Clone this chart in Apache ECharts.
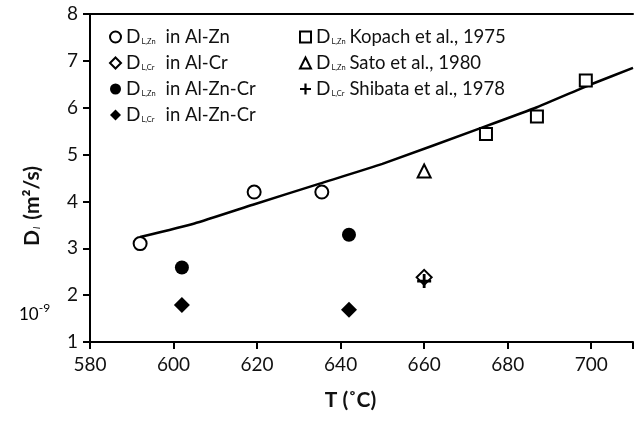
<!DOCTYPE html>
<html><head><meta charset="utf-8">
<script src="https://cdn.jsdelivr.net/npm/echarts@6/dist/echarts.min.js"></script>
<style>html,body{margin:0;padding:0;background:#fff}#c{width:636px;height:421px}</style>
</head><body><div id="c"></div>
<script>
// ---- data ----
const xTicks = [580, 600, 620, 640, 660, 680, 700];
const yTicks = [1, 2, 3, 4, 5, 6, 7, 8];
const alZn_T = [592, 619.3, 635.5];          const alZn_D = [3.1, 4.2, 4.2];
const alCr_T = [660];                          const alCr_D = [2.38];
const alZnCrZn_T = [602, 642];                 const alZnCrZn_D = [2.59, 3.29];
const alZnCrCr_T = [602, 642];                 const alZnCrCr_D = [1.79, 1.69];
const kopach_T = [674.8, 687, 698.7];          const kopach_D = [5.44, 5.81, 6.58];
const sato_T = [660];                          const sato_D = [4.65];
const shibata_T = [660];                       const shibata_D = [2.3];
const fit_T = [592, 605, 619, 635, 650, 674, 687, 700, 710];
const fit_D = [3.24, 3.53, 3.93, 4.38, 4.80, 5.58, 6.01, 6.50, 6.85];

const names = {
  a: 'D|L,Zn|in Al-Zn', b: 'D|L,Cr|in Al-Cr', c: 'D|L,Zn|in Al-Zn-Cr', d: 'D|L,Cr|in Al-Zn-Cr',
  e: 'D|L,Zn|Kopach et al., 1975', f: 'D|L,Zn|Sato et al., 1980', g: 'D|L,Cr|Shibata et al., 1978'
};
const zip = (a, b) => a.map((v, i) => [v, b[i]]);
const FONT = 'Lato';
const TXT = '#111';
const plus = 'path://M4,0H6V4H10V6H6V10H4V6H0V4H4Z';
const openStyle = { color: '#fff', borderColor: '#000', borderWidth: 2, opacity: 1 };
const fillStyle = { color: '#000', opacity: 1 };

function sc(key, data, symbol, size, style) {
  return { name: names[key], type: 'scatter', data: data, symbol: symbol, symbolSize: size,
           itemStyle: style, z: 5, emphasis: { disabled: true } };
}
const richL = {
  d: { fontFamily: FONT, fontSize: 19, color: TXT },
  s: { fontFamily: FONT, fontSize: 7.5, color: TXT, padding: [9, 0, 0, 1], width: 24 },
  t: { fontFamily: FONT, fontSize: 18.5, color: TXT }
};
const richR = {
  d: { fontFamily: FONT, fontSize: 19, color: TXT },
  s: { fontFamily: FONT, fontSize: 7.5, color: TXT, padding: [9, 0, 0, 1], width: 18 },
  t: { fontFamily: FONT, fontSize: 18.5, color: TXT }
};
const fmt = n => { const p = n.split('|'); return '{d|' + p[0] + '}{s|' + p[1] + '}{t|' + p[2] + '}'; };

const chart = echarts.init(document.getElementById('c'));
chart.setOption({
  animation: false,
  textStyle: { fontFamily: FONT },
  grid: { left: 90, right: 0, top: 14, bottom: 79 },
  legend: [
    { data: [names.a, names.b, names.c, names.d], orient: 'vertical', left: 104, top: 21,
      itemWidth: 11, itemHeight: 11, itemGap: 4, selectedMode: false, formatter: fmt,
      textStyle: { rich: richL, lineHeight: 22 } },
    { data: [names.e, names.f, names.g], orient: 'vertical', left: 294, top: 21,
      itemWidth: 11, itemHeight: 11, itemGap: 4, selectedMode: false, formatter: fmt,
      textStyle: { rich: richR, lineHeight: 22 } }
  ],
  xAxis: [{
    type: 'value', min: 580, max: 710, interval: 20,
    name: 'T (˚C)', nameLocation: 'middle', nameGap: 48,
    nameTextStyle: { fontFamily: FONT, fontSize: 21, fontWeight: 'bold', color: TXT, padding: [0, 22, 0, 0] },
    axisLine: { lineStyle: { color: '#000', width: 2 } },
    axisTick: { show: true, length: 7, lineStyle: { color: '#000', width: 2 } },
    axisLabel: { fontFamily: FONT, fontSize: 19, color: TXT, margin: 13,
                 formatter: v => xTicks.includes(v) ? String(v) : '' },
    splitLine: { show: false }
  }, {
    type: 'value', min: 580, max: 710, position: 'top',
    axisLine: { show: true, lineStyle: { color: '#000', width: 2 } },
    axisTick: { show: false }, axisLabel: { show: false }, splitLine: { show: false }
  }],
  yAxis: {
    type: 'value', min: 1, max: 8, interval: 1,
    name: '{b|D}{i|l}{b| (m²/s)}', nameLocation: 'middle', nameGap: 47, nameRotate: 90,
    nameTextStyle: { padding: [0, 56, 0, 0], rich: {
      b: { fontFamily: FONT, fontSize: 21, fontWeight: 'bold', color: TXT },
      i: { fontFamily: FONT, fontSize: 10, fontStyle: 'italic', color: TXT, padding: [9, 2, 0, 1] }
    } },
    axisLine: { lineStyle: { color: '#000', width: 2 } },
    axisTick: { show: true, length: 7, lineStyle: { color: '#000', width: 2 } },
    axisLabel: { fontFamily: FONT, fontSize: 19, color: TXT, margin: 12,
                 formatter: v => yTicks.includes(v) ? String(v) : '' },
    splitLine: { show: false }
  },
  graphic: [{
    type: 'text', left: 19, top: 302,
    style: { text: '{n|10}{p|-9}', rich: {
      n: { fontFamily: FONT, fontSize: 17, color: TXT, padding: [7, 0, 0, 0] },
      p: { fontFamily: FONT, fontSize: 12, color: TXT, padding: [0, 0, 6, 0] } } }
  }],
  series: [
    { type: 'line', data: zip(fit_T, fit_D), smooth: 0.15, symbol: 'none',
      lineStyle: { color: '#000', width: 2.5 }, z: 3, silent: true },
    sc('a', zip(alZn_T, alZn_D), 'circle', 13, openStyle),
    sc('b', zip(alCr_T, alCr_D), 'diamond', 15, openStyle),
    sc('c', zip(alZnCrZn_T, alZnCrZn_D), 'circle', 14, fillStyle),
    sc('d', zip(alZnCrCr_T, alZnCrCr_D), 'diamond', 16, fillStyle),
    sc('e', zip(kopach_T, kopach_D), 'rect', 12, openStyle),
    sc('f', zip(sato_T, sato_D), 'triangle', 13, openStyle),
    sc('g', zip(shibata_T, shibata_D), plus, 14, fillStyle)
  ]
});
</script></body></html>
